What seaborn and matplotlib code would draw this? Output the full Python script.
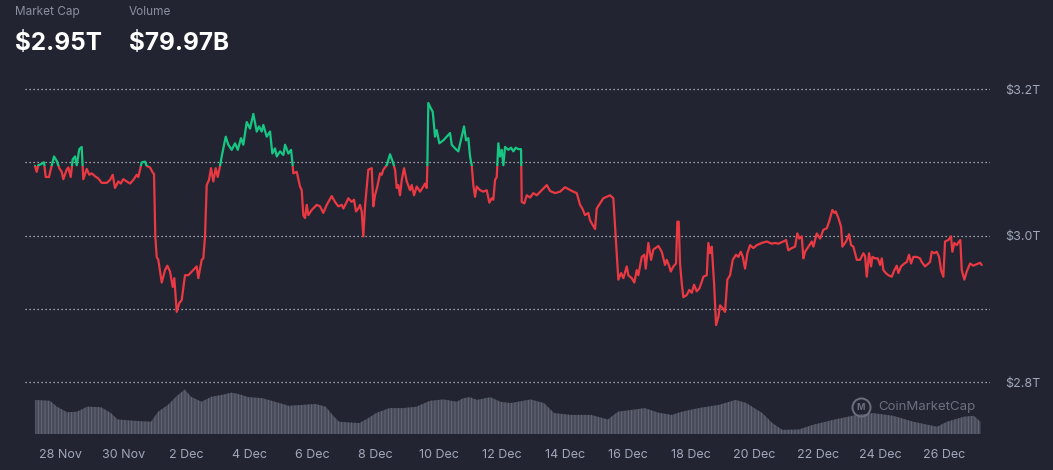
import numpy as np
import pandas as pd
import matplotlib
matplotlib.use("Agg")
import matplotlib.pyplot as plt
from matplotlib.patches import Rectangle
import seaborn as sns

# days since 27 Nov 00:00, total market cap in $T
day = [0.208, 0.262, 0.313, 0.420, 0.493, 0.547, 0.652, 0.705, 0.810, 0.895,
       0.978, 1.054, 1.105, 1.212, 1.263, 1.339, 1.402, 1.475, 1.529, 1.611,
       1.687, 1.719, 1.738, 1.846, 1.928, 2.004, 2.109, 2.213, 2.321, 2.479,
       2.584, 2.670, 2.742, 2.847, 2.923, 3.005, 3.113, 3.218, 3.322, 3.430,
       3.481, 3.588, 3.693, 3.747, 3.851, 3.937, 3.978, 4.019, 4.063, 4.114,
       4.222, 4.326, 4.399, 4.485, 4.570, 4.621, 4.697, 4.778, 4.855, 4.959, 5.064,
       5.222, 5.330, 5.381, 5.489, 5.540, 5.594, 5.647, 5.720, 5.784, 5.857,
       5.932, 5.996, 6.069, 6.122, 6.249, 6.332, 6.439, 6.544, 6.630, 6.734,
       6.807, 6.915, 7.019, 7.124, 7.232, 7.305, 7.390, 7.441, 7.548, 7.653,
       7.726, 7.812, 7.866, 7.970, 8.075, 8.129, 8.233, 8.319, 8.359, 8.391,
       8.499, 8.603, 8.657, 8.707, 8.761, 8.815, 8.866, 8.973, 9.132, 9.236,
       9.341, 9.449, 9.607, 9.712, 9.816, 9.924,
       9.975, 10.082, 10.133, 10.241, 10.314, 10.377, 10.450, 10.503, 10.557, 10.608,
       10.662, 10.767, 10.874, 10.925, 10.979, 11.052, 11.138, 11.192, 11.242, 11.350,
       11.454, 11.540, 11.613, 11.667, 11.717, 11.771, 11.825, 11.898, 11.983, 12.088,
       12.142, 12.214, 12.300, 12.405, 12.509, 12.563, 12.617, 12.636, 12.667, 12.743,
       12.807, 12.880, 12.933, 13.016, 13.143, 13.250, 13.355, 13.409, 13.513, 13.618,
       13.726, 13.799, 13.862, 13.935, 13.989, 14.042, 14.093, 14.147, 14.201, 14.306,
       14.410, 14.518, 14.600, 14.676, 14.727, 14.781, 14.835, 14.885,
       14.939, 14.993, 15.044, 15.097, 15.202, 15.288, 15.360, 15.436, 15.519, 15.604,
       15.627, 15.709, 15.785, 15.890, 15.994, 16.102, 16.260, 16.419, 16.523, 16.681,
       16.840, 16.998, 17.125, 17.261, 17.369, 17.474, 17.546, 17.632, 17.736, 17.790,
       17.948, 18.002, 18.107, 18.211, 18.319, 18.424, 18.528, 18.604, 18.687, 18.772,
       18.845, 18.953, 19.003, 19.111, 19.193, 19.269, 19.320, 19.428, 19.510, 19.555,
       19.637, 19.723, 19.796,
       19.954, 20.062, 20.166, 20.220, 20.303, 20.347, 20.429, 20.515, 20.556, 20.600,
       20.641, 20.695, 20.746, 20.853, 20.936, 21.012, 21.085, 21.170, 21.253, 21.329,
       21.380, 21.487, 21.538, 21.592, 21.646, 21.719, 21.782, 21.855, 21.909, 21.994,
       22.067, 22.140, 22.226, 22.311, 22.416, 22.489, 22.565, 22.628, 22.701, 22.774,
       22.859, 22.964, 23.072, 23.230, 23.389, 23.547, 23.651, 23.756, 23.914, 24.000,
       24.072, 24.180, 24.284, 24.357, 24.421, 24.497, 24.548, 24.601, 24.706, 24.814,
       24.865, 24.972,
       25.077, 25.182, 25.289, 25.362, 25.467, 25.530, 25.575, 25.657, 25.743, 25.784,
       25.869, 25.923, 25.996, 26.059, 26.132, 26.240, 26.344, 26.449, 26.503, 26.556,
       26.629, 26.693, 26.734, 26.819, 26.905, 26.978, 27.032, 27.082, 27.158, 27.241,
       27.348, 27.431, 27.507, 27.557, 27.643, 27.747, 27.823, 27.896, 27.959, 28.032,
       28.140, 28.241, 28.298, 28.402, 28.507, 28.561, 28.614, 28.697, 28.773, 28.846,
       28.909, 28.982, 29.036, 29.140, 29.226, 29.267, 29.330, 29.406, 29.479, 29.520,
       29.565, 29.647, 29.723, 29.828, 29.932, 30.040, 30.144, 30.198]

mcap = [3.095, 3.087, 3.096, 3.098, 3.100, 3.080, 3.080, 3.090, 3.108, 3.102,
        3.092, 3.087, 3.077, 3.090, 3.093, 3.080, 3.104, 3.108, 3.096, 3.118,
        3.121, 3.094, 3.077, 3.091, 3.083, 3.085, 3.081, 3.078, 3.072, 3.072,
        3.076, 3.083, 3.065, 3.074, 3.071, 3.077, 3.074, 3.071, 3.076, 3.083,
        3.080, 3.100, 3.101, 3.095, 3.093, 3.086, 3.084, 2.999, 2.971, 2.967,
        2.936, 2.953, 2.959, 2.951, 2.930, 2.942, 2.896, 2.908, 2.912, 2.946, 2.946,
        2.953, 2.958, 2.942, 2.967, 2.969, 2.999, 3.069, 3.076, 3.092, 3.074,
        3.092, 3.080, 3.095, 3.108, 3.135, 3.124, 3.117, 3.126, 3.117, 3.133,
        3.124, 3.155, 3.146, 3.166, 3.142, 3.149, 3.142, 3.151, 3.135, 3.142,
        3.112, 3.119, 3.108, 3.115, 3.110, 3.124, 3.112, 3.117, 3.101, 3.085,
        3.087, 3.067, 3.062, 3.028, 3.024, 3.042, 3.028, 3.035, 3.042, 3.040,
        3.031, 3.042, 3.054, 3.046, 3.040, 3.042,
        3.037, 3.046, 3.051, 3.046, 3.049, 3.033, 3.037, 3.042, 3.033, 2.999,
        3.040, 3.090, 3.092, 3.040, 3.055, 3.067, 3.085, 3.083, 3.090, 3.096,
        3.111, 3.101, 3.090, 3.065, 3.069, 3.055, 3.076, 3.092, 3.074, 3.062,
        3.069, 3.055, 3.067, 3.060, 3.067, 3.071, 3.065, 3.094, 3.181, 3.174,
        3.169, 3.135, 3.144, 3.126, 3.130, 3.135, 3.140, 3.124, 3.119, 3.115,
        3.135, 3.149, 3.130, 3.133, 3.108, 3.096, 3.069, 3.053, 3.067, 3.062,
        3.060, 3.062, 3.045, 3.051, 3.049, 3.076, 3.080, 3.126,
        3.108, 3.117, 3.096, 3.121, 3.117, 3.120, 3.115, 3.120, 3.118, 3.118,
        3.046, 3.044, 3.055, 3.052, 3.058, 3.055, 3.062, 3.069, 3.061, 3.058,
        3.060, 3.066, 3.063, 3.060, 3.058, 3.042, 3.037, 3.028, 3.031, 3.021,
        3.009, 3.037, 3.044, 3.051, 3.053, 3.055, 3.051, 2.999, 2.940, 2.949,
        2.942, 2.958, 2.946, 2.942, 2.936, 2.953, 2.946, 2.971, 2.974, 2.955,
        2.990, 2.967, 2.981,
        2.986, 2.978, 2.960, 2.967, 2.958, 2.951, 2.958, 2.962, 3.019, 3.019,
        2.962, 2.935, 2.916, 2.919, 2.926, 2.922, 2.933, 2.924, 2.928, 2.937,
        2.944, 2.946, 2.990, 2.976, 2.985, 2.935, 2.878, 2.889, 2.905, 2.901,
        2.896, 2.940, 2.946, 2.967, 2.974, 2.971, 2.978, 2.971, 2.955, 2.976,
        2.987, 2.983, 2.987, 2.990, 2.992, 2.989, 2.990, 2.989, 2.992, 2.994,
        2.980, 2.983, 2.985, 3.003, 2.996, 2.999, 2.969, 2.978, 2.985, 2.992,
        2.985, 3.003,
        2.996, 3.008, 3.010, 3.019, 3.035, 3.031, 3.033, 3.024, 3.012, 2.985,
        2.990, 2.994, 3.002, 2.987, 2.985, 2.967, 2.967, 2.976, 2.972, 2.944,
        2.976, 2.958, 2.971, 2.969, 2.969, 2.960, 2.969, 2.953, 2.949, 2.946,
        2.944, 2.953, 2.959, 2.949, 2.958, 2.962, 2.964, 2.974, 2.962, 2.971,
        2.971, 2.969, 2.964, 2.958, 2.962, 2.964, 2.978, 2.976, 2.978, 2.971,
        2.953, 2.944, 2.992, 2.994, 2.999, 2.978, 2.990, 2.987, 2.992, 2.994,
        2.953, 2.940, 2.951, 2.962, 2.959, 2.961, 2.963, 2.960]

# volume ($B), same day axis
vol_day = [0.208, 0.683, 0.905, 1.222, 1.539, 1.855, 2.299, 2.616, 2.822, 3.344,
           3.883, 4.105, 4.421, 4.675, 4.950, 5.150, 5.483, 5.799, 6.119, 6.439,
           6.652, 6.972, 7.399, 7.811, 8.248, 8.667, 9.097, 9.417, 9.630, 9.839,
           10.482, 10.694, 11.011, 11.439, 11.866, 12.291, 12.715, 13.143, 13.567, 13.780,
           13.989, 14.204, 14.632, 14.949, 15.269, 15.909, 16.333, 16.650, 17.185, 17.822,
           18.354, 18.674, 19.099, 19.523, 19.951, 20.375, 20.695, 21.227, 21.864, 22.396,
           22.716, 23.249, 23.565, 23.885, 24.418, 24.842, 25.482, 26.227, 26.756, 27.396,
           28.036, 28.780, 29.100, 29.629, 29.949, 30.161]
vol = [75, 73, 60, 48, 49, 60, 59, 46, 32, 29,
       27, 49, 64, 82, 98, 82, 71, 82, 86, 91,
       88, 81, 79, 71, 62, 64, 66, 60, 42, 27,
       24, 32, 46, 57, 57, 60, 73, 76, 71, 79,
       81, 75, 81, 71, 68, 76, 68, 46, 42, 42,
       32, 49, 53, 57, 47, 42, 49, 57, 64, 75,
       69, 46, 24, 9, 10, 20, 31, 42, 46, 40,
       27, 16, 27, 38, 40, 27]

tick_days = [1, 3, 5, 7, 9, 11, 13, 15, 17, 19, 21, 23, 25, 27, 29]
tick_labels = ["28 Nov", "30 Nov", "2 Dec", "4 Dec", "6 Dec", "8 Dec", "10 Dec", "12 Dec",
               "14 Dec", "16 Dec", "18 Dec", "20 Dec", "22 Dec", "24 Dec", "26 Dec"]
grid_values = [2.8, 2.9, 3.0, 3.1, 3.2]
price_ticks = [2.8, 3.0, 3.2]
price_labels = ["$2.8T", "$3.0T", "$3.2T"]

BG = "#222531"
RED = "#ea3943"
GREEN = "#16c784"
GREY = "#a1a7bb"

sns.set_theme(style="dark", rc={"axes.facecolor": BG, "figure.facecolor": BG})
plt.rcParams["font.family"] = ["Inter", "DejaVu Sans"]
plt.rcParams["hatch.linewidth"] = 0.6

fig = plt.figure(figsize=(10.53, 4.70), dpi=100)
pos = [25 / 1053, 1 - 434 / 470, 965 / 1053, 349 / 470]
xlim = (-0.109, 30.46)

# volume underneath
axv = fig.add_axes(pos)
axv.fill_between(vol_day, vol, facecolor="#474a58", edgecolor="#6a6d7b",
                 hatch="|||||", linewidth=0)
axv.set_xlim(xlim)
axv.set_ylim(0, 349 * 2.2)
axv.axis("off")

ax = fig.add_axes(pos)
ax.set_facecolor("none")
ax.set_xlim(xlim)
ax.set_ylim(2.7294, 3.2055)

for g in grid_values:
    ax.axhline(g, color="#c9cbd3", lw=0.9, ls=(0, (1, 2.2)), zorder=1)

df = pd.DataFrame({"day": day, "mcap": mcap})
base = mcap[0]
sns.lineplot(data=df, x="day", y="mcap", color=RED, lw=1.6, sort=False, ax=ax, zorder=3)
sns.lineplot(data=df, x="day", y="mcap", color=GREEN, lw=1.6, sort=False, ax=ax, zorder=3)
red_line, green_line = ax.lines[-2], ax.lines[-1]
below = Rectangle((-5, 2.0), 50, base - 2.0, transform=ax.transData)
above = Rectangle((-5, base), 50, 2.0, transform=ax.transData)
red_line.set_clip_path(below)
green_line.set_clip_path(above)

ax.set_xlabel("")
ax.set_ylabel("")
ax.grid(False)
for s in ax.spines.values():
    s.set_visible(False)
ax.yaxis.tick_right()
ax.set_yticks(price_ticks, price_labels)
ax.set_xticks(tick_days, tick_labels)
ax.tick_params(axis="y", length=0, pad=11, labelsize=9, labelcolor=GREY)
ax.tick_params(axis="x", length=0, pad=11, labelsize=9, labelcolor=GREY)

# header
fig.text(15 / 1053, 1 - 12 / 470, "Market Cap", fontsize=8.5, color="#8a8f9f", va="center")
fig.text(15 / 1053, 1 - 43 / 470, "$2.95T", fontsize=17.5, fontweight="bold", color="white", va="center")
fig.text(129 / 1053, 1 - 12 / 470, "Volume", fontsize=8.5, color="#8a8f9f", va="center")
fig.text(129 / 1053, 1 - 43 / 470, "$79.97B", fontsize=17.5, fontweight="bold", color="white", va="center")

# watermark
wm = "#6b6f7e"
ax.plot([861 / 1053], [1 - 407 / 470], transform=fig.transFigure, marker="o", ms=13,
        mfc="none", mec=wm, mew=1.4, clip_on=False)
fig.text(861 / 1053, 1 - 407 / 470, "M", fontsize=6.5, color=wm, ha="center", va="center", fontweight="bold")
fig.text(878 / 1053, 1 - 407 / 470, "CoinMarketCap", fontsize=9.5, color=wm, va="center")

fig.savefig("out.png", dpi=100, facecolor=BG)
